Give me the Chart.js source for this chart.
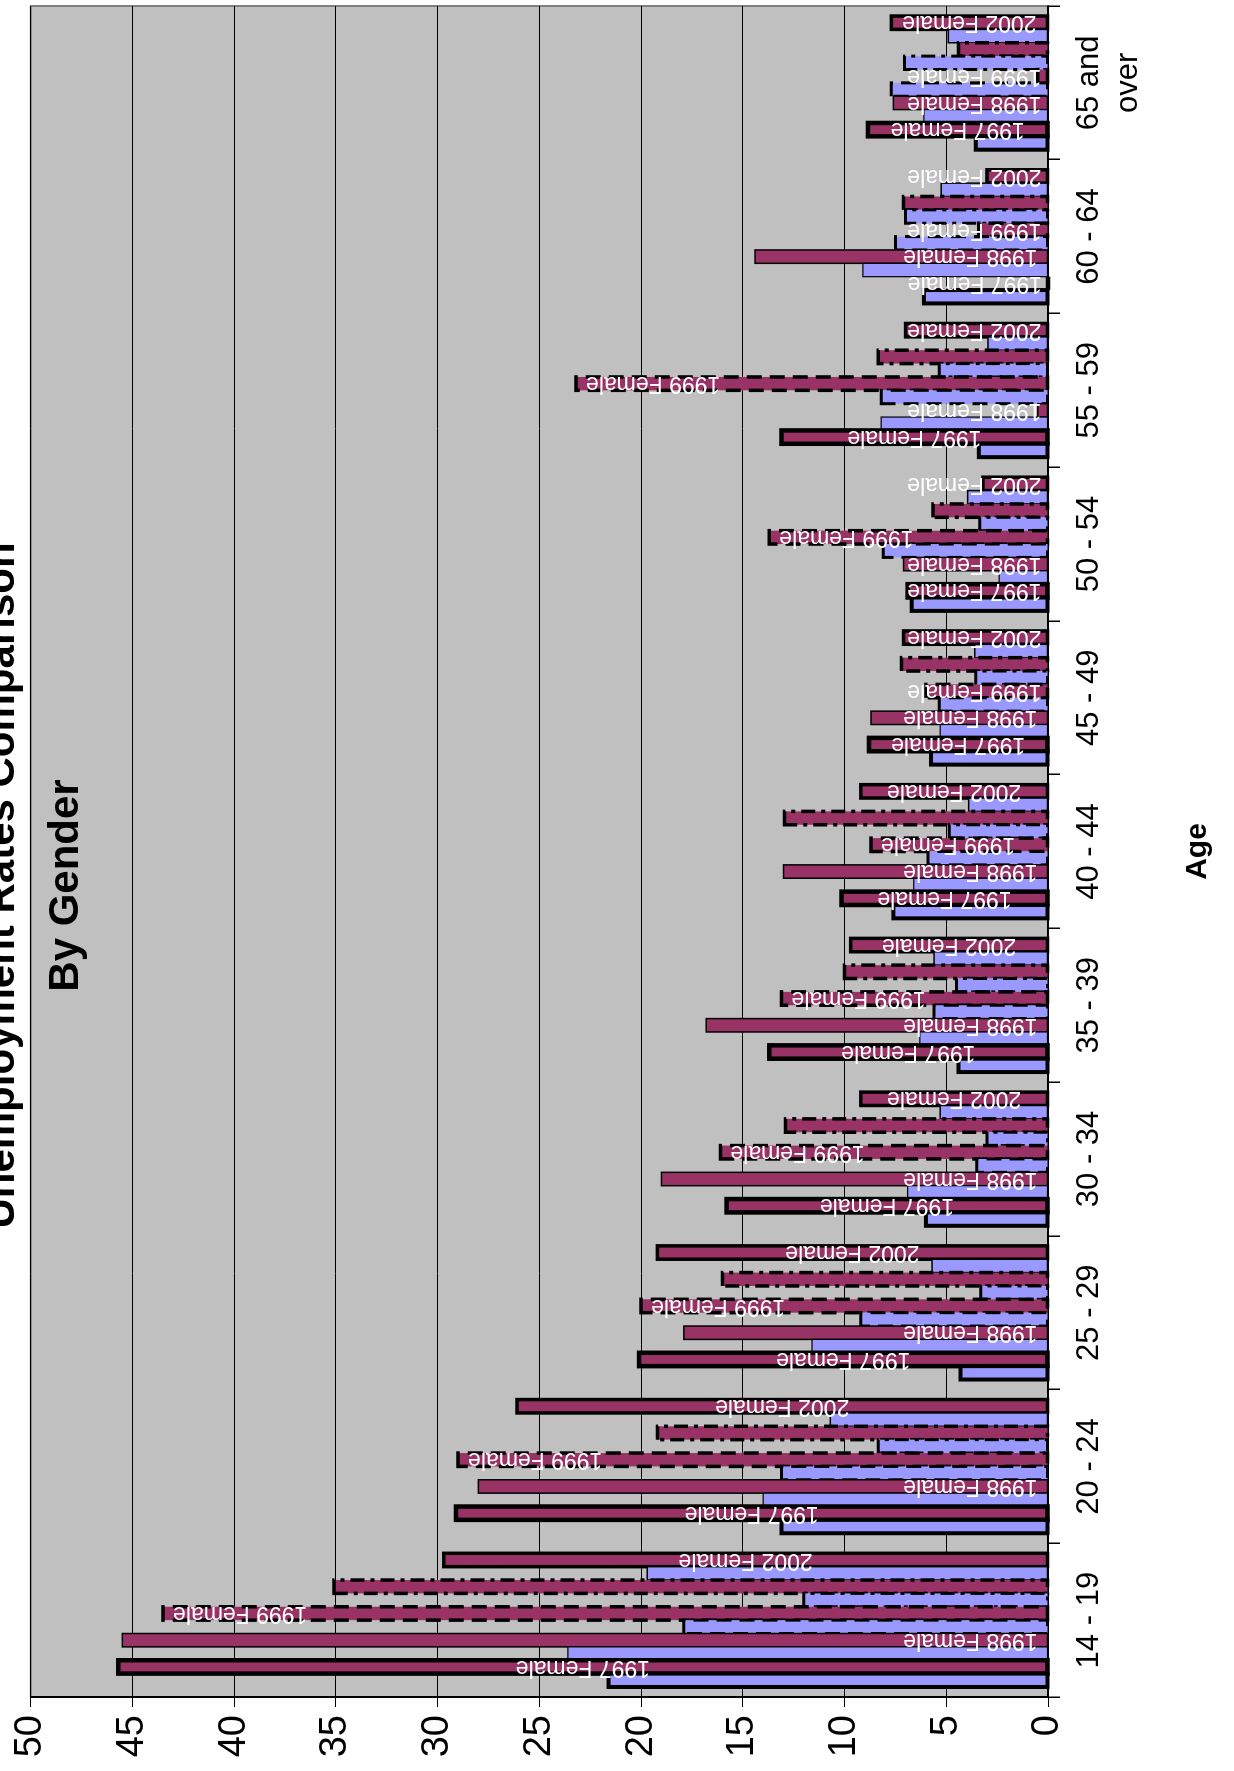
<!DOCTYPE html>
<html>
<head>
<meta charset="utf-8">
<title>Unemployment Rates Comparison By Gender</title>
<script src="https://cdn.jsdelivr.net/npm/chart.js@4.4.1/dist/chart.umd.min.js"></script>
<style>
  html, body { margin: 0; padding: 0; background: #ffffff; overflow: hidden; }
  /* the chart is laid out landscape and turned a quarter turn to stand on the page */
  #wrap {
    position: absolute; left: 0; top: 0;
    width: 1771px; height: 1234px;
    transform-origin: 0 0;
    transform: translate(0, 1771px) rotate(-90deg);
  }
  canvas { display: block; }
</style>
</head>
<body>
<div id="wrap"><canvas id="chart" width="1771" height="1234"></canvas></div>
<script>
// Age groups
const categories = ['14 - 19', '20 - 24', '25 - 29', '30 - 34', '35 - 39', '40 - 44',
                    '45 - 49', '50 - 54', '55 - 59', '60 - 64', ['65 and', 'over']];

// Unemployment rates (%) by year and gender
const male1997   = [21.6, 13.1,  4.3,  6.0,  4.4,  7.6,  5.75, 6.7,  3.4,  6.1,  3.55];
const female1997 = [45.7, 29.1, 20.1, 15.8, 13.7, 10.15, 8.8,  6.9, 13.1,  0.0,  8.85];
const male1998   = [23.6, 14.0, 11.6,  6.9,  6.3,  6.6,  5.3,  2.4,  8.2,  9.1,  6.1];
const female1998 = [45.5, 28.0, 17.9, 19.0, 16.8, 13.0,  8.7,  7.1,  0.5, 14.4,  7.6];
const male1999   = [17.9, 13.1,  9.2,  3.5,  5.6,  5.9,  5.35, 8.1,  8.2,  7.5,  7.7];
const female1999 = [43.5, 29.0, 20.0, 16.1, 13.1,  8.7,  6.0, 13.7, 23.2,  3.4,  0.5];
const male2000   = [12.0,  8.35, 3.3,  3.0,  4.5,  4.85, 3.55, 3.35, 5.35, 7.0,  7.05];
const female2000 = [35.1, 19.2, 16.0, 12.9, 10.0, 12.95, 7.2,  5.65, 8.35, 7.1,  4.4];
const male2002   = [19.7, 10.7,  5.7,  5.3,  5.6,  3.9,  3.6,  3.95, 2.95, 5.25, 4.9];
const female2002 = [29.7, 26.1, 19.2,  9.2,  9.7,  9.2,  7.1,  3.2,  7.0,  3.0,  7.7];

// Value axis ticks
const valueTicks = [0, 5, 10, 15, 20, 25, 30, 35, 40, 45, 50];

const MALE = '#9999FF';
const FEMALE = '#993366';
const FONT = '"Liberation Sans", Arial, Helvetica, sans-serif';

function series(label, data, color, outline, labelPos) {
  return {
    label, data,
    backgroundColor: color,
    borderWidth: 0,
    outline,            // border drawn by the outline plugin (supports dashes)
    labelPos            // where the series name sits inside each bar
  };
}

const datasets = [
  series('1997 Male',   male1997,   MALE,   { width: 4, dash: [] }),
  series('1997 Female', female1997, FEMALE, { width: 4.5, dash: [] }, 'center'),
  series('1998 Male',   male1998,   MALE,   { width: 1.2, dash: [] }),
  series('1998 Female', female1998, FEMALE, { width: 1.5, dash: [] }, 'base'),
  series('1999 Male',   male1999,   MALE,   { width: 3, dash: [15, 8] }),
  series('1999 Female', female1999, FEMALE, { width: 3.5, dash: [15, 8] }, 'end'),
  series('2000 Male',   male2000,   MALE,   { width: 3, dash: [14, 6, 4, 6] }),
  series('2000 Female', female2000, FEMALE, { width: 3.5, dash: [14, 6, 4, 6] }),
  series('2002 Male',   male2002,   MALE,   { width: 1.5, dash: [] }),
  series('2002 Female', female2002, FEMALE, { width: 3.5, dash: [] }, 'center')
];

// grey plot area behind the bars
const plotBackground = {
  id: 'plotBackground',
  beforeDraw(chart) {
    const { ctx, chartArea: a } = chart;
    ctx.save();
    ctx.fillStyle = '#ffffff';
    ctx.fillRect(0, 0, chart.width, chart.height);
    ctx.fillStyle = '#C0C0C0';
    ctx.fillRect(a.left, a.top, a.right - a.left, a.bottom - a.top);
    ctx.strokeStyle = '#808080';
    ctx.lineWidth = 2;
    ctx.strokeRect(a.left, a.top, a.right - a.left, a.bottom - a.top);
    ctx.restore();
  }
};

// solid / dashed / dash-dot bar borders
const barOutlines = {
  id: 'barOutlines',
  afterDatasetDraw(chart, args) {
    const ds = chart.data.datasets[args.index];
    if (!ds.outline) return;
    const ctx = chart.ctx;
    ctx.save();
    ctx.strokeStyle = '#000000';
    ctx.lineWidth = ds.outline.width;
    ctx.setLineDash(ds.outline.dash);
    ctx.lineJoin = 'miter';
    args.meta.data.forEach(el => {
      const p = el.getProps(['x', 'y', 'base', 'width'], true);
      const top = Math.min(p.y, p.base);
      const h = Math.abs(p.base - p.y);
      ctx.strokeRect(p.x - p.width / 2, top, p.width, h);
    });
    ctx.restore();
  }
};

// series names written along the female bars
const barLabels = {
  id: 'barLabels',
  afterDatasetsDraw(chart) {
    const ctx = chart.ctx;
    ctx.save();
    ctx.font = '23px ' + FONT;
    ctx.fillStyle = '#ffffff';
    ctx.textAlign = 'left';
    ctx.textBaseline = 'middle';
    chart.data.datasets.forEach((ds, i) => {
      if (!ds.labelPos) return;
      const meta = chart.getDatasetMeta(i);
      const w = ctx.measureText(ds.label).width;
      meta.data.forEach(el => {
        const p = el.getProps(['x', 'y', 'base'], true);
        const len = p.base - p.y;
        let start;
        if (len < w + 20) start = p.base - 6;
        else if (ds.labelPos === 'base') start = p.base - 10;
        else if (ds.labelPos === 'end') start = p.y + 10 + w;
        else start = (p.y + p.base) / 2 + w / 2;
        ctx.save();
        ctx.translate(p.x, start);
        ctx.rotate(-Math.PI / 2);
        ctx.fillText(ds.label, 0, 0);
        ctx.restore();
      });
    });
    ctx.restore();
  }
};

// two-line heading, partly over the plot area
const heading = {
  id: 'heading',
  afterDraw(chart) {
    const ctx = chart.ctx;
    ctx.save();
    ctx.font = 'bold 42px ' + FONT;
    ctx.fillStyle = '#000000';
    ctx.textAlign = 'center';
    ctx.textBaseline = 'alphabetic';
    const cx = chart.width / 2;
    ctx.fillText('Unemployment Rates Comparison', cx, 14);
    ctx.fillText('By Gender', cx, 78);
    ctx.restore();
  }
};

new Chart(document.getElementById('chart'), {
  type: 'bar',
  data: { labels: categories, datasets },
  plugins: [plotBackground, barOutlines, barLabels, heading],
  options: {
    responsive: false,
    animation: false,
    devicePixelRatio: 1,
    layout: { padding: { top: 25, right: 6, left: 0, bottom: 0 } },
    datasets: { bar: { categoryPercentage: 10 / 11.5, barPercentage: 1.0 } },
    plugins: { legend: { display: false }, tooltip: { enabled: false }, title: { display: false } },
    scales: {
      x: {
        type: 'category',
        offset: true,
        grid: { display: true, drawOnChartArea: false, drawTicks: true, tickLength: 12, color: '#000000', offset: true, lineWidth: 1.5 },
        border: { display: true, color: '#000000', width: 2 },
        ticks: { color: '#000000', font: { family: FONT, size: 31, lineHeight: 1.25 }, padding: 10, maxRotation: 0, autoSkip: false },
        title: { display: true, text: 'Age', color: '#000000', font: { family: FONT, size: 30, weight: 'bold' }, padding: { top: 0, bottom: 18 } },
        afterFit(scale) { scale.height = 186; }
      },
      y: {
        min: 0, max: 50,
        afterBuildTicks(scale) { scale.ticks = valueTicks.map(v => ({ value: v })); },
        grid: { color: '#000000', lineWidth: 1, tickLength: 10, drawTicks: true },
        border: { display: true, color: '#000000', width: 2 },
        ticks: { color: '#000000', font: { family: FONT, size: 38 }, padding: 8 },
        afterFit(scale) { scale.width = 74; }
      }
    }
  }
});
</script>
</body>
</html>
